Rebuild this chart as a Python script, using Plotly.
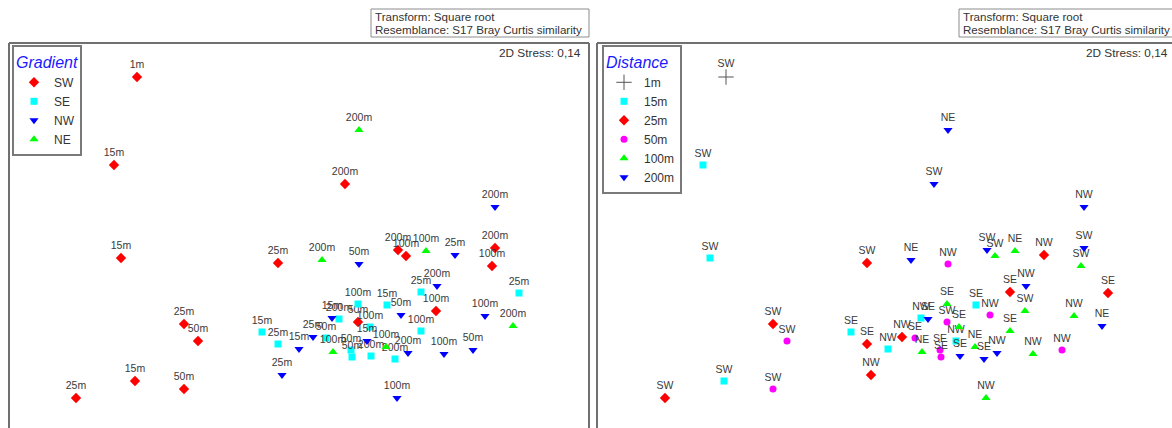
import plotly.graph_objects as go

W, H = 1172, 428

# ---- data: nMDS coordinates (arbitrary units) ----
gradient = (["SW"] * 16 + ["SE"] * 14 + ["NW"] * 15 + ["NE"] * 6)
distance = [
    # SW
    "1m", "15m", "15m", "15m", "25m", "25m", "25m", "50m", "50m", "50m",
    "100m", "100m", "100m", "200m", "200m", "200m",
    # SE
    "15m", "15m", "25m", "25m", "25m", "50m", "50m", "50m",
    "100m", "100m", "100m", "200m", "200m", "200m",
    # NW
    "15m", "15m", "15m", "25m", "25m", "25m", "50m", "50m", "50m",
    "100m", "100m", "100m", "200m", "200m", "200m",
    # NE
    "100m", "100m", "100m", "200m", "200m", "200m",
]
mds1 = [
    -1.63, -1.86, -1.79, -1.65, -0.22, -1.16, -2.24, -1.02, -1.16, 0.58,
    1.06, 1.92, 1.36, 0.45, 0.98, 1.95,
    -0.38, 0.87, -0.22, 1.21, 2.19, 0.26, 0.51, 0.52,
    0.70, 0.58, 1.21, 0.39, 0.71, 0.95,
    -0.01, 0.32, 0.67, -0.18, 0.13, 1.55, 0.59, 1.01, 1.73,
    0.97, 1.85, 1.44, 1.95, 1.37, 1.08,
    1.26, 0.33, 0.86, 0.59, 0.22, 2.13,
]
mds2 = [
    1.73, 0.85, -0.08, -1.31, -0.13, -0.74, -1.48, -0.91, -1.39, -0.72,
    -0.06, -0.16, -0.61, 0.66, 0.00, 0.02,
    -0.82, -0.55, -0.94, -0.42, -0.43, -0.88, -1.00, -1.07,
    -0.77, -0.54, -0.81, -0.69, -1.06, -1.09,
    -0.99, -0.68, -0.91, -1.25, -0.87, -0.05, -0.14, -0.65, -1.00,
    -1.48, -0.66, -1.04, 0.43, -0.36, -1.03,
    -0.01, -1.02, -0.97, 1.20, -0.10, -0.76,
]

gradient_levels = ["SW", "SE", "NW", "NE"]
distance_levels = ["1m", "15m", "25m", "50m", "100m", "200m"]

FONT = "Liberation Sans, Arial, sans-serif"
LABEL_COLOR = "#3a3a3a"

gradient_style = {
    "SW": dict(symbol="diamond", color="#ff0000", size=8),
    "SE": dict(symbol="square", color="#00ffff", size=7),
    "NW": dict(symbol="triangle-down", color="#0000ff", size=8),
    "NE": dict(symbol="triangle-up", color="#00ff00", size=8),
}
distance_style = {
    "1m": dict(symbol="cross-thin-open", color="#555555", size=11, line=dict(width=1, color="#555555")),
    "15m": dict(symbol="square", color="#00ffff", size=7),
    "25m": dict(symbol="diamond", color="#ff0000", size=8),
    "50m": dict(symbol="circle", color="#ff00ff", size=7),
    "100m": dict(symbol="triangle-up", color="#00ff00", size=8),
    "200m": dict(symbol="triangle-down", color="#0000ff", size=8),
}

fig = go.Figure()

# left panel: symbols by Gradient, labels = Distance
for g in gradient_levels:
    idx = [i for i, v in enumerate(gradient) if v == g]
    st = dict(gradient_style[g])
    st.setdefault("line", dict(width=0))
    fig.add_trace(go.Scatter(
        x=[mds1[i] for i in idx], y=[mds2[i] for i in idx],
        text=[distance[i] for i in idx],
        mode="markers+text", textposition="top center",
        textfont=dict(size=10.5, color=LABEL_COLOR, family=FONT),
        marker=st, name=g, legend="legend",
        xaxis="x", yaxis="y", cliponaxis=False, hoverinfo="skip",
    ))

# right panel: symbols by Distance, labels = Gradient
for d in distance_levels:
    idx = [i for i, v in enumerate(distance) if v == d]
    st = dict(distance_style[d])
    st.setdefault("line", dict(width=0))
    fig.add_trace(go.Scatter(
        x=[mds1[i] for i in idx], y=[mds2[i] for i in idx],
        text=[gradient[i] for i in idx],
        mode="markers+text", textposition="top center",
        textfont=dict(size=10.5, color=LABEL_COLOR, family=FONT),
        marker=st, name=d, legend="legend2",
        xaxis="x2", yaxis="y2", cliponaxis=False, hoverinfo="skip",
    ))


def px(x):
    return x / W


def py(y):
    return 1 - y / H


FRAME = "#707070"
BOXLINE = "#8c8c8c"
shapes = [
    # left frame
    dict(type="line", xref="paper", yref="paper", x0=px(9), x1=px(9), y0=py(430), y1=py(43), line=dict(color=FRAME, width=2)),
    dict(type="line", xref="paper", yref="paper", x0=px(9), x1=px(589), y0=py(43), y1=py(43), line=dict(color=FRAME, width=2)),
    dict(type="line", xref="paper", yref="paper", x0=px(589), x1=px(589), y0=py(43), y1=py(430), line=dict(color=FRAME, width=2)),
    # right frame
    dict(type="line", xref="paper", yref="paper", x0=px(597), x1=px(597), y0=py(430), y1=py(43), line=dict(color=FRAME, width=2)),
    dict(type="line", xref="paper", yref="paper", x0=px(597), x1=px(1175), y0=py(43), y1=py(43), line=dict(color=FRAME, width=2)),
    # info boxes
    dict(type="rect", xref="paper", yref="paper", x0=px(371), x1=px(589), y0=py(37), y1=py(9), line=dict(color=BOXLINE, width=1)),
    dict(type="rect", xref="paper", yref="paper", x0=px(959), x1=px(1180), y0=py(37), y1=py(9), line=dict(color=BOXLINE, width=1)),
]

annotations = []
for x0, xs in ((373, 583), (961, 1170)):
    annotations.append(dict(xref="paper", yref="paper", x=px(x0), y=py(16), text="Transform: Square root",
                            showarrow=False, xanchor="left", yanchor="middle",
                            font=dict(size=11.6, color="#333333", family=FONT)))
    annotations.append(dict(xref="paper", yref="paper", x=px(x0), y=py(30), text="Resemblance: S17 Bray Curtis similarity",
                            showarrow=False, xanchor="left", yanchor="middle",
                            font=dict(size=11.6, color="#333333", family=FONT)))
    annotations.append(dict(xref="paper", yref="paper", x=px(xs), y=py(53), text="2D Stress: 0,14",
                            showarrow=False, xanchor="right", yanchor="middle",
                            font=dict(size=11.8, color="#333333", family=FONT)))

legend_common = dict(
    xanchor="left", yanchor="top", bgcolor="white",
    bordercolor="#7a7a7a", borderwidth=2,
    font=dict(size=12, color="#333333", family=FONT),
    tracegroupgap=0, itemwidth=30, itemclick=False, itemdoubleclick=False,
)

fig.update_layout(
    width=W, height=H,
    margin=dict(l=0, r=0, t=0, b=0),
    paper_bgcolor="white", plot_bgcolor="white",
    showlegend=True,
    xaxis=dict(domain=[px(9), px(589)], range=[-2.91, 2.89], visible=False),
    yaxis=dict(domain=[0, py(43)], range=[-1.78, 2.07], visible=False),
    xaxis2=dict(domain=[px(597), 1], range=[-2.92, 2.83], visible=False, anchor="y2"),
    yaxis2=dict(domain=[0, py(43)], range=[-1.78, 2.07], visible=False, anchor="x2"),
    legend=dict(x=px(12), y=py(45),
                title=dict(text="Gradient", font=dict(size=16, color="#1a1aff", style="italic", family=FONT)),
                **legend_common),
    legend2=dict(x=px(602), y=py(45),
                 title=dict(text="Distance", font=dict(size=16, color="#1a1aff", style="italic", family=FONT)),
                 **legend_common),
    shapes=shapes,
    annotations=annotations,
    font=dict(family=FONT),
)

fig.write_html(
    "out.html",
    config={"displayModeBar": False, "staticPlot": True},
    post_script="document.body.style.margin='0';document.body.style.padding='0';document.body.style.overflow='hidden';",
)
